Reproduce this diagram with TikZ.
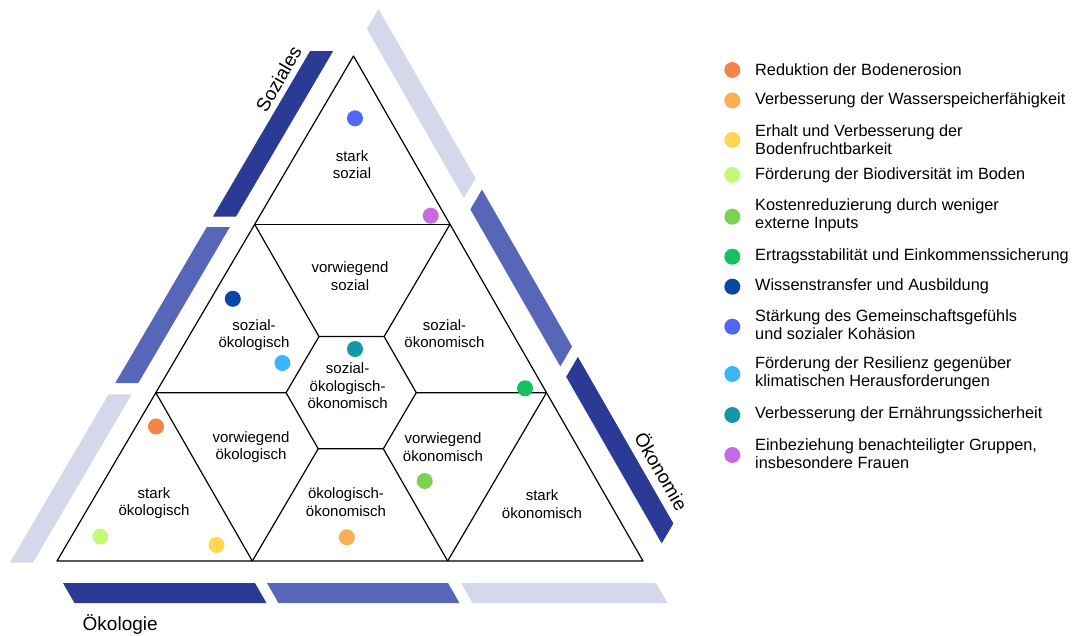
\documentclass[tikz,border=0pt]{standalone}
\usepackage{fontspec}
\setmainfont{Liberation Sans}
\usetikzlibrary{calc}
\definecolor{cA}{HTML}{F5834A}
\definecolor{cB}{HTML}{FAAF52}
\definecolor{cC}{HTML}{FDD653}
\definecolor{cD}{HTML}{C4F877}
\definecolor{cE}{HTML}{7BD152}
\definecolor{cF}{HTML}{14C15E}
\definecolor{cG}{HTML}{0B47A8}
\definecolor{cH}{HTML}{4F68F7}
\definecolor{cI}{HTML}{3AB6FA}
\definecolor{cJ}{HTML}{1597AA}
\definecolor{cK}{HTML}{C66BE3}
\definecolor{bardark}{HTML}{2B3A94}
\definecolor{barmid}{HTML}{5866BA}
\definecolor{barlight}{HTML}{D5D7EB}
\tikzset{
  edge/.style={line width=1.2pt, black, line join=round},
  dot/.style={circle, inner sep=0pt, minimum size=16pt, fill=#1},
  zone/.style={align=center, inner sep=0pt, font=\fontsize{15}{17.5}\selectfont},
  legtext/.style={anchor=west, align=left, inner sep=0pt, font=\fontsize{16.3}{18}\selectfont},
  axislabel/.style={inner sep=0pt, font=\fontsize{19}{21}\selectfont}
}
\begin{document}
\begin{tikzpicture}[x=1pt,y=-1pt]
\useasboundingbox (0,0) rectangle (1073,635);
% bars
\fill[bardark]  (63,583) -- (255,583) -- (266.5,603) -- (74.5,603) -- cycle;
\fill[barmid]   (267,583) -- (448,583) -- (459.5,603) -- (278.5,603) -- cycle;
\fill[barlight] (461,583) -- (656,583) -- (667.5,603) -- (472.5,603) -- cycle;
\fill[bardark]  (333.2,51.0) -- (236.0,216.6) -- (212.9,216.6) -- (310.1,51.0) -- cycle;
\fill[barmid]   (229.9,227.0) -- (138.3,383.1) -- (115.2,383.1) -- (206.8,227.0) -- cycle;
\fill[barlight] (131.7,394.3) -- (33.0,562.5) -- (9.9,562.5) -- (108.6,394.3) -- cycle;
\fill[bardark]  (661.7,543.4) -- (566.2,376.8) -- (577.9,356.9) -- (673.4,523.5) -- cycle;
\fill[barmid]   (560.3,366.4) -- (470.3,209.4) -- (482.0,189.5) -- (572.0,346.5) -- cycle;
\fill[barlight] (463.8,198.1) -- (366.8,28.9) -- (378.5,9.0) -- (475.5,178.2) -- cycle;
% axis labels
\node[axislabel, rotate=60] (soz) at (278.5,79) {Soziales};
\node[axislabel, rotate=-60] (oek) at (662,471) {Ökonomie};
\node[axislabel, anchor=base west] (oko) at (82.5,630.5) {Ökologie};
% triangle geometry
\coordinate (A) at (353.5,56);
\coordinate (B) at (57,561);
\coordinate (C) at (643,561);
\coordinate (U1) at ($(A)!1/3!(B)$);
\coordinate (U2) at ($(A)!1/3!(C)$);
\coordinate (L1) at ($(A)!2/3!(B)$);
\coordinate (L2) at ($(A)!2/3!(C)$);
\coordinate (D1) at ($(B)!1/3!(C)$);
\coordinate (D2) at ($(B)!2/3!(C)$);
\coordinate (H1) at ($(U1)!1/3!(D2)$);
\coordinate (H2) at ($(U2)!1/3!(D1)$);
\coordinate (H3) at ($(L1)!2/3!(L2)$);
\coordinate (H4) at ($(D2)!1/3!(U1)$);
\coordinate (H5) at ($(D1)!1/3!(U2)$);
\coordinate (H6) at ($(L1)!1/3!(L2)$);
\draw[edge] (A) -- (B) -- (C) -- cycle;
\draw[edge] (U1) -- (U2);
\draw[edge] (U1) -- (H1);
\draw[edge] (U2) -- (H2);
\draw[edge] (L1) -- (H6);
\draw[edge] (H3) -- (L2);
\draw[edge] (L1) -- (D1);
\draw[edge] (L2) -- (D2);
\draw[edge] (H5) -- (D1);
\draw[edge] (H4) -- (D2);
\draw[edge] (H1) -- (H2) -- (H3) -- (H4) -- (H5) -- (H6) -- cycle;
% zone labels
\node[zone] (z1) at (352,164.5) {stark\\sozial};
\node[zone] (z2) at (350,276) {vorwiegend\\sozial};
\node[zone] (z3) at (254,335) {sozial-\\ökologisch};
\node[zone] (z4) at (444.5,333.5) {sozial-\\ökonomisch};
\node[zone] (z5) at (347.6,386) {sozial-\\ökologisch-\\ökonomisch};
\node[zone] (z6) at (251,447) {vorwiegend\\ökologisch};
\node[zone] (z7) at (443,447) {vorwiegend\\ökonomisch};
\node[zone] (z8) at (154,503) {stark\\ökologisch};
\node[zone] (z9) at (346,502) {ökologisch-\\ökonomisch};
\node[zone] (z10) at (542,504) {stark\\ökonomisch};
% dots in triangle
\node[dot=cH] (p8) at (355,118.3) {};
\node[dot=cK] (p11) at (430.7,215.7) {};
\node[dot=cG] (p7) at (232.8,298.8) {};
\node[dot=cI] (p9) at (282.4,363) {};
\node[dot=cJ] (p10) at (355,349) {};
\node[dot=cF] (p6) at (525,388.3) {};
\node[dot=cA] (p1) at (156,426.5) {};
\node[dot=cE] (p5) at (424.7,481) {};
\node[dot=cD] (p4) at (100.4,536.7) {};
\node[dot=cC] (p3) at (216.5,545) {};
\node[dot=cB] (p2) at (346.9,537.3) {};
% legend
\node[dot=cA] (l1) at (732.3,70) {};
\node[legtext] (t1) at (755,70) {Reduktion der Bodenerosion};
\node[dot=cB] (l2) at (732.3,100.5) {};
\node[legtext] (t2) at (755,100.5) {Verbesserung der Wasserspeicherfähigkeit};
\node[dot=cC] (l3) at (732.3,140) {};
\node[legtext] (t3) at (755,139.5) {Erhalt und Verbesserung der\\Bodenfruchtbarkeit};
\node[dot=cD] (l4) at (732.3,175) {};
\node[legtext] (t4) at (755,175) {Förderung der Biodiversität im Boden};
\node[dot=cE] (l5) at (732.3,216.7) {};
\node[legtext] (t5) at (755,215) {Kostenreduzierung durch weniger\\externe Inputs};
\node[dot=cF] (l6) at (732.3,256.7) {};
\node[legtext] (t6) at (755,256.5) {Ertragsstabilität und Einkommenssicherung};
\node[dot=cG] (l7) at (732.3,286.7) {};
\node[legtext] (t7) at (755,286.5) {Wissenstransfer und Ausbildung};
\node[dot=cH] (l8) at (732.3,326.7) {};
\node[legtext] (t8) at (755,325) {Stärkung des Gemeinschaftsgefühls\\und sozialer Kohäsion};
\node[dot=cI] (l9) at (732.3,374) {};
\node[legtext] (t9) at (755,373) {Förderung der Resilienz gegenüber\\klimatischen Herausforderungen};
\node[dot=cJ] (l10) at (732.3,415) {};
\node[legtext] (t10) at (755,414) {Verbesserung der Ernährungssicherheit};
\node[dot=cK] (l11) at (732.3,455) {};
\node[legtext] (t11) at (755,454) {Einbeziehung benachteiligter Gruppen,\\insbesondere Frauen};
\end{tikzpicture}
\end{document}
